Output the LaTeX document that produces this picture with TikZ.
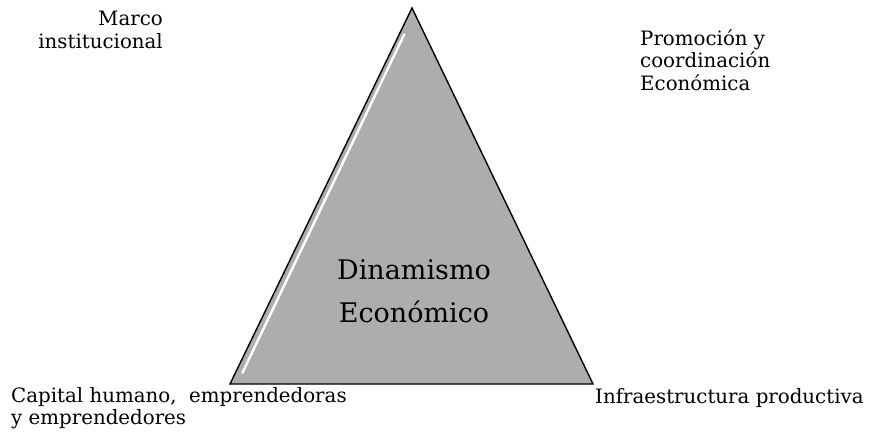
\documentclass[tikz,border=0pt]{standalone}
\usepackage{fontspec}
\setmainfont{DejaVu Serif}
\usetikzlibrary{positioning,calc}

\begin{document}
\begin{tikzpicture}[x=1pt,y=-1pt,
    corner/.style={font=\fontsize{19.8}{22.5}\selectfont, inner sep=0pt},
    centre/.style={font=\fontsize{27}{43}\selectfont, inner sep=0pt, align=center}]
    \useasboundingbox (0,0) rectangle (872,439);

    % Triangle
    \coordinate (apex) at (412,8);
    \coordinate (bl) at (230,384);
    \coordinate (br) at (593,384);
    \draw[fill=black!32, line width=1.4pt, line join=miter] (apex) -- (bl) -- (br) -- cycle;
    \draw[white, line width=2.4pt, line cap=round]
        ($(bl)!0.03!(apex)+(7,0)$) -- ($(bl)!0.93!(apex)+(5,0)$); % Highlight

    % Centre
    \node[centre, anchor=north] (dyn) at (414,259) {Dinamismo\\Económico};

    % Labels
    \node[corner, anchor=north east, align=right] (marco) at (163,11) {Marco\\institucional};
    \node[corner, anchor=north west, align=left] (promo) at (640,29) {Promoción y\\coordinación\\Económica};
    \node[corner, anchor=north west, align=left] (capital) at (11,387) {Capital humano,\ \ emprendedoras\\y emprendedores};
    \node[corner, anchor=north west] (infra) at (595,388) {Infraestructura productiva};
\end{tikzpicture}
\end{document}
